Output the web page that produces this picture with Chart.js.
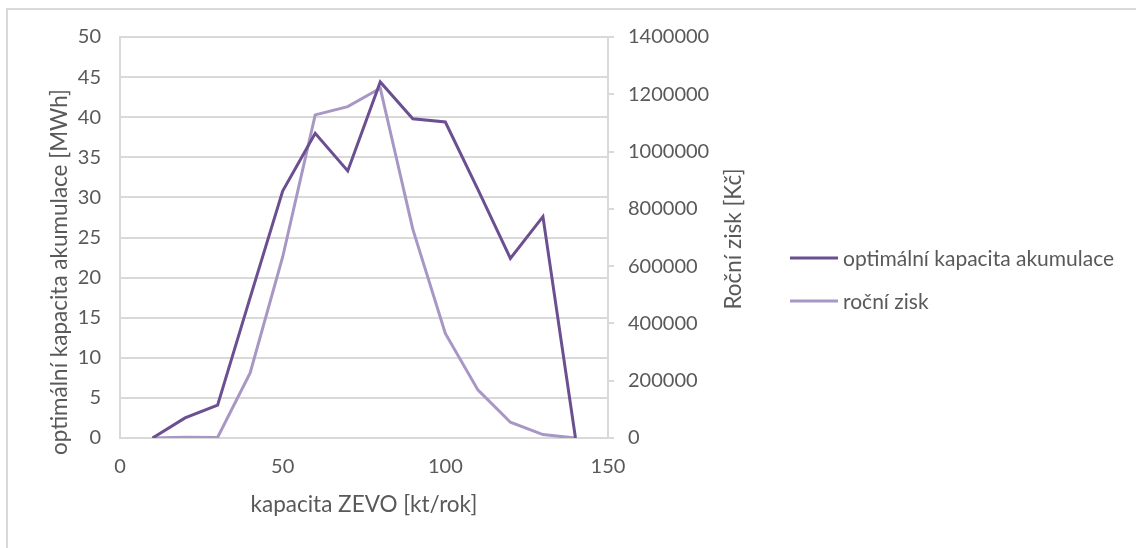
<!DOCTYPE html>
<html>
<head>
<meta charset="utf-8">
<script src="https://cdn.jsdelivr.net/npm/chart.js@4"></script>
<style>
  body { margin: 0; background: #fff; }
  #frame { position: absolute; left: 6px; top: 8px; width: 1200px; height: 600px;
           border-top: 2px solid #d9d9d9; border-left: 2px solid #d9d9d9; }
  #wrap { position: absolute; left: 0; top: 0; width: 1136px; height: 548px; }
</style>
</head>
<body>
<div id="frame"></div>
<div id="wrap"><canvas id="chart"></canvas></div>
<script>
  // kapacita ZEVO [kt/rok]
  const capacity = [10, 20, 30, 40, 50, 60, 70, 80, 90, 100, 110, 120, 130, 140];
  // optimální kapacita akumulace [MWh]
  const storage = [0, 2.5, 4.1, 17.5, 30.8, 38.0, 33.3, 44.4, 39.8, 39.4, 31.0, 22.4, 27.6, 0];
  // roční zisk [Kč]
  const profit = [0, 3000, 2000, 227000, 632000, 1128000, 1157000, 1221000, 729000, 365000, 168000, 55000, 12000, 0];

  const labels = ['optimální kapacita akumulace', 'roční zisk'];
  const xTitle = 'kapacita ZEVO [kt/rok]';
  const yTitle = 'optimální kapacita akumulace [MWh]';
  const y1Title = 'Roční zisk [Kč]';
  const colors = ['#6b4f91', '#a897c4'];
  const textColor = '#595959';
  const gridColor = '#d9d9d9';
  const fontFamily = 'Lato, "Open Sans", sans-serif';

  Chart.defaults.font.family = fontFamily;
  Chart.defaults.font.size = 20;
  Chart.defaults.color = textColor;

  // legend to the right + both vertical titles read bottom-to-top
  const extras = {
    id: 'extras',
    afterDraw(chart) {
      const ctx = chart.ctx;
      ctx.save();
      ctx.fillStyle = textColor;
      ctx.textBaseline = 'middle';

      ctx.font = '21px ' + fontFamily;
      chart.data.datasets.forEach((ds, i) => {
        const y = 258 + i * 43;
        ctx.strokeStyle = ds.borderColor;
        ctx.lineWidth = 3;
        ctx.beginPath();
        ctx.moveTo(790, y);
        ctx.lineTo(838, y);
        ctx.stroke();
        ctx.fillText(ds.label, 843, y + 1);
      });

      ctx.font = '22.5px ' + fontFamily;
      ctx.textAlign = 'center';
      [[yTitle, 60, 272], [y1Title, 734, 239]].forEach(([t, x, y]) => {
        ctx.save();
        ctx.translate(x, y);
        ctx.rotate(-Math.PI / 2);
        ctx.fillText(t, 0, 0);
        ctx.restore();
      });
      ctx.restore();
    }
  };

  new Chart(document.getElementById('chart'), {
    type: 'line',
    data: {
      datasets: [
        {
          label: labels[0],
          data: capacity.map((c, i) => ({ x: c, y: storage[i] })),
          borderColor: colors[0],
          borderWidth: 3,
          pointRadius: 0,
          yAxisID: 'y'
        },
        {
          label: labels[1],
          data: capacity.map((c, i) => ({ x: c, y: profit[i] })),
          borderColor: colors[1],
          borderWidth: 3,
          pointRadius: 0,
          yAxisID: 'y1'
        }
      ]
    },
    options: {
      responsive: true,
      maintainAspectRatio: false,
      animation: false,
      layout: { padding: { left: 0, top: 37, right: 386, bottom: 0 } },
      plugins: { legend: { display: false }, tooltip: { enabled: false } },
      scales: {
        x: {
          type: 'linear',
          min: 0,
          max: 150,
          ticks: { stepSize: 50, padding: 17 },
          grid: { display: false, drawTicks: false },
          border: { color: gridColor, width: 2 },
          title: { display: true, text: xTitle, font: { size: 22.5 }, padding: { top: 0, bottom: 30 } },
          afterFit: s => { s.height = 110; }
        },
        y: {
          position: 'left',
          min: 0,
          max: 50,
          ticks: { stepSize: 5, padding: 19 },
          grid: { color: gridColor, lineWidth: 2, drawTicks: false },
          border: { color: gridColor, width: 2 },
          afterFit: s => { s.width = 120; }
        },
        y1: {
          position: 'right',
          min: 0,
          max: 1400000,
          ticks: { stepSize: 200000, padding: 14, callback: v => String(v) },
          grid: { drawOnChartArea: false, color: gridColor, lineWidth: 2, tickLength: 6 },
          border: { color: gridColor, width: 2 },
          afterFit: s => { s.width = 142; }
        }
      }
    },
    plugins: [extras]
  });
</script>
</body>
</html>
